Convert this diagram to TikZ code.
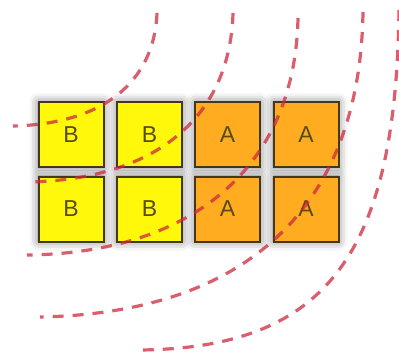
\documentclass[tikz,border=0pt]{standalone}
\usepackage{fontspec}
\setmainfont{Liberation Sans}
\usetikzlibrary{shadows.blur}

\definecolor{CellYellow}{RGB}{255,248,10}
\definecolor{CellOrange}{RGB}{255,172,32}
\definecolor{CellEdge}{RGB}{68,56,28}
\definecolor{CellText}{RGB}{85,75,25}
\definecolor{WaveRed}{RGB}{205,40,62}

\begin{document}
\begin{tikzpicture}[x=1pt, y=-1pt,
    cell/.style={draw=CellEdge, line width=2pt, minimum size=65pt, inner sep=0pt,
        font=\fontsize{23}{26}\selectfont, text=CellText,
        blur shadow={shadow xshift=0pt, shadow yshift=0pt, shadow blur radius=9pt, shadow opacity=55}},
    cellB/.style={cell, fill=CellYellow},
    cellA/.style={cell, fill=CellOrange},
    wave/.style={WaveRed, line width=3.2pt, dash pattern=on 11pt off 9pt, draw opacity=0.75}]
    \useasboundingbox (0,0) rectangle (399,354);

    % Top row
    \node[cellB] (b1) at (71,134.5) {B};
    \node[cellB] (b2) at (149.5,134.5) {B};
    \node[cellA] (a1) at (227.5,134.5) {A};
    \node[cellA] (a2) at (306,134.5) {A};

    % Bottom row
    \node[cellB] (b3) at (71,209) {B};
    \node[cellB] (b4) at (149.5,209) {B};
    \node[cellA] (a3) at (227.5,209) {A};
    \node[cellA] (a4) at (306,209) {A};

    % Wave fronts
    \draw[wave] (157,13) .. controls (154,83) and (102,124) .. (13,126);
    \draw[wave] (233,13) .. controls (230,118) and (155,180) .. (27,182);
    \draw[wave] (298,18) .. controls (295,165) and (195,253) .. (27,255);
    \draw[wave] (363,12) .. controls (360,207) and (247,313) .. (40,317);
    \draw[wave] (399,10) .. controls (396,255) and (326,348) .. (140,350);
\end{tikzpicture}
\end{document}
